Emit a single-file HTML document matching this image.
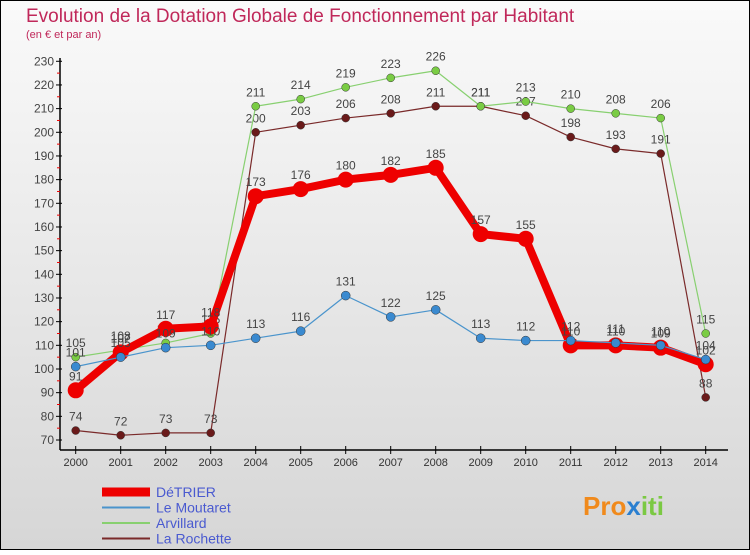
<!DOCTYPE html>
<html><head><meta charset="utf-8"><style>
html,body{margin:0;padding:0;}
body{width:750px;height:550px;overflow:hidden;font-family:"Liberation Sans",sans-serif;}
</style></head><body>
<svg width="750" height="550" xmlns="http://www.w3.org/2000/svg">
<defs><linearGradient id="bg" x1="0" y1="0" x2="0" y2="1"><stop offset="0" stop-color="#fafafa"/><stop offset="1" stop-color="#d6d6d6"/></linearGradient></defs>
<rect x="0.5" y="0.5" width="749" height="549" fill="url(#bg)" stroke="#000"/>
<text x="26" y="22" font-size="19" fill="#c0285a">Evolution de la Dotation Globale de Fonctionnement par Habitant</text>
<text x="26" y="38" font-size="11" fill="#c0285a">(en € et par an)</text>
<g id="axes"></g>
<g id="series"></g>
<g id="legend"></g>
<text x="583" y="515" font-size="26" font-weight="bold" fill="#f08a1c">Pro<tspan fill="#2a7fd0">x</tspan><tspan fill="#7bc943">iti</tspan></text>
</svg>
<script>
const years=[2000,2001,2002,2003,2004,2005,2006,2007,2008,2009,2010,2011,2012,2013,2014];
const yTicks=[70,80,90,100,110,120,130,140,150,160,170,180,190,200,210,220,230];
const detrier=[91,107,117,118,173,176,180,182,185,157,155,110,110,109,102];
const moutaret=[101,105,109,110,113,116,131,122,125,113,112,112,111,110,104];
const arvillard=[105,108,111,115,211,214,219,223,226,211,213,210,208,206,115];
const rochette=[74,72,73,73,200,203,206,208,211,211,207,198,193,191,88];
const NS="http://www.w3.org/2000/svg";
function X(i){return 75.7+i*45;}
function Y(v){return 440-(v-70)*2.367;}
function mk(tag,attrs,parent){const e=document.createElementNS(NS,tag);for(const k in attrs)e.setAttribute(k,attrs[k]);parent.appendChild(e);return e;}
const ax=document.getElementById('axes');
let l=mk('line',{x1:60,y1:58,x2:60,y2:450,stroke:'#000','stroke-width':1.5},ax);


l=mk('line',{x1:60,y1:450,x2:728,y2:450,stroke:'#000','stroke-width':1.5},ax);


yTicks.forEach((v,i)=>{
  mk('line',{x1:56,y1:Y(v),x2:62,y2:Y(v),stroke:'#000'},ax);
  if(i<yTicks.length-1) mk('line',{x1:57,y1:Y(v+5),x2:60,y2:Y(v+5),stroke:'#e00'},ax);
  const t=mk('text',{x:54,y:Y(v)+4,'font-size':12,fill:'#444','text-anchor':'end'},ax);
  t.textContent=v;
  
  
});
years.forEach((y,i)=>{
  mk('line',{x1:X(i),y1:446,x2:X(i),y2:454,stroke:'#000'},ax);
  const t=mk('text',{x:X(i),y:466,'font-size':11,fill:'#333','text-anchor':'middle'},ax);
  t.textContent=y;
  
  
});
const sg=document.getElementById('series');
function draw(data,color,w,r,dot,name){
  const g=mk('g',{},sg);
  
  
  const p=mk('polyline',{points:data.map((v,i)=>X(i)+','+Y(v)).join(' '),fill:'none',stroke:color,'stroke-width':w,'stroke-linejoin':'round'},g);
  
  
  data.forEach((v,i)=>{
    const c=mk('circle',{cx:X(i),cy:Y(v),r:r,fill:dot,stroke:'#333','stroke-width':w>3?0:0.5},g);
    
    
    const t=mk('text',{x:X(i),y:Y(v)-10,'font-size':12,fill:'#444','text-anchor':'middle'},g);
    t.textContent=v;
    
    
  });
}
draw(rochette,'#7a2a2a',1.2,4,'#6a1a1a','la-rochette');
draw(arvillard,'#88d070',1.2,4,'#7acc44','arvillard');
draw(detrier,'#ee0000',8,8,'#ee0000','detrier');
draw(moutaret,'#4a94cc',1.2,4.5,'#3a8ad0','le-moutaret');
const lg=document.getElementById('legend');
const items=[['DéTRIER','#ee0000',9],['Le Moutaret','#4a94cc',2],['Arvillard','#88d070',2],['La Rochette','#7a2a2a',2]];
items.forEach((it,i)=>{
  const y=492+i*15.5;
  const g=mk('g',{},lg);
  
  
  mk('line',{x1:102,y1:y,x2:150,y2:y,stroke:it[1],'stroke-width':it[2]},g);
  const t=mk('text',{x:156,y:y+5,'font-size':14,fill:'#4a5ad0'},g);
  t.textContent=it[0];
});
</script>
</body></html>
